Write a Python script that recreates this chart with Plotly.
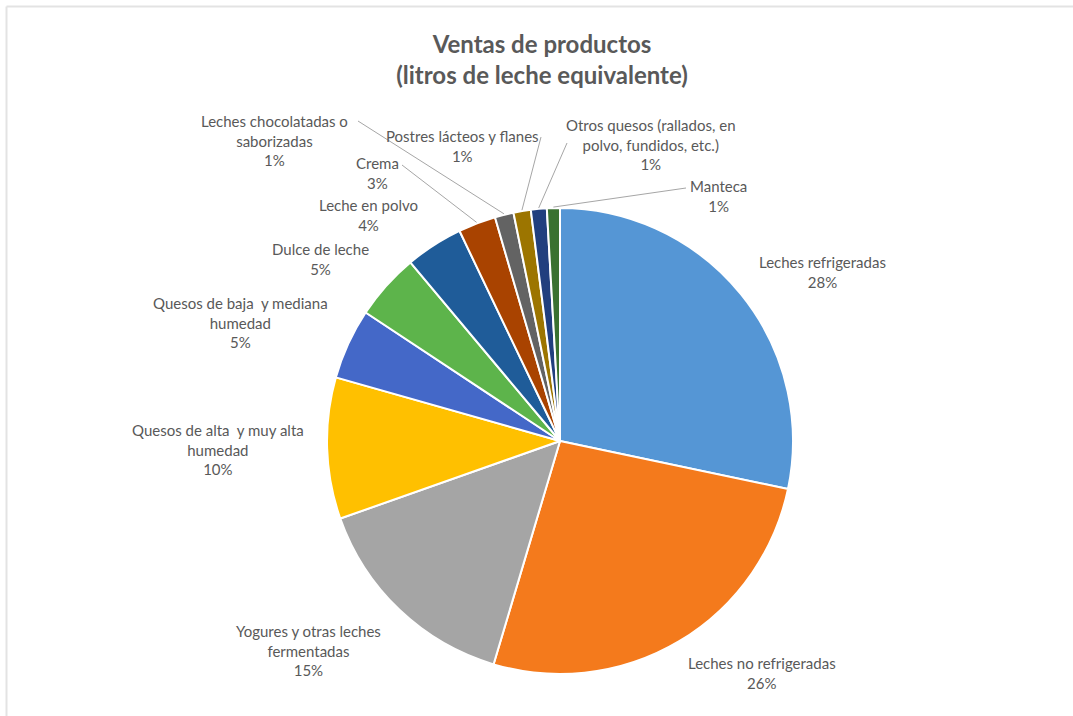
import math
import plotly.graph_objects as go

# ---- data ----
categories = [
    "Leches refrigeradas",
    "Leches no refrigeradas",
    "Yogures y otras leches<br>fermentadas",
    "Quesos de alta  y muy alta<br>humedad",
    "Quesos de baja  y mediana<br>humedad",
    "Dulce de leche",
    "Leche en polvo",
    "Crema",
    "Leches chocolatadas o<br>saborizadas",
    "Postres lácteos y flanes",
    "Otros quesos (rallados, en<br>polvo, fundidos, etc.)",
    "Manteca",
]
values = [28.3, 26.3, 15.0, 9.8, 4.9, 4.6, 4.0, 2.6, 1.3, 1.2, 1.1, 0.9]
colors = ["#5596D5", "#F47A1C", "#A5A5A5", "#FFC000", "#4468C8", "#5DB44B",
          "#1F5C99", "#A94300", "#636363", "#9C7500", "#213F7E", "#3A7130"]

# ---- layout / styling (pixels) ----
W, H = 1073, 716
CX, CY, R = 560, 441, 233
label_pos = [(822, 272), (762, 673), (308, 650), (218, 449), (240, 322), (320, 259),
             (368, 215), (377, 173), (274, 141), (462, 146), (651, 144), (718, 196)]
leader_from = {8: (358, 121), 7: (402, 165), 9: (541, 137), 10: (567, 143), 11: (686, 188)}
TEXT = "#595959"
FONT = "Lato"

def px(x):
    return x / W

def py(y):
    return 1 - y / H

fig = go.Figure(go.Pie(
    labels=[c.replace("<br>", " ") for c in categories],
    values=values,
    sort=False,
    direction="clockwise",
    rotation=0,
    marker=dict(colors=colors, line=dict(color="white", width=2)),
    textinfo="none",
    hoverinfo="label+percent",
    showlegend=False,
    domain=dict(x=[px(CX - R), px(CX + R)], y=[py(CY + R), py(CY - R)]),
))

total = sum(values)
annotations = []
shapes = []
cum = 0.0
for i, (cat, v) in enumerate(zip(categories, values)):
    pct = round(v / total * 100)
    lx, ly = label_pos[i]
    annotations.append(dict(
        x=px(lx), y=py(ly), xref="paper", yref="paper",
        text=f"{cat}<br>{pct}%", showarrow=False,
        xanchor="center", yanchor="middle", align="center",
        font=dict(family=FONT, size=15, color=TEXT),
    ))
    mid = (cum + v / 2) / total * 2 * math.pi
    cum += v
    if i in leader_from:
        ex = CX + (R + 1) * math.sin(mid)
        ey = CY - (R + 1) * math.cos(mid)
        sx, sy = leader_from[i]
        shapes.append(dict(type="line", xref="paper", yref="paper",
                           x0=px(sx), y0=py(sy), x1=px(ex), y1=py(ey),
                           line=dict(color="#A6A6A6", width=1)))

# light frame on left/top
shapes.append(dict(type="line", xref="paper", yref="paper", x0=px(6.5), y0=py(6.5), x1=1, y1=py(6.5),
                   line=dict(color="#E3E3E3", width=2)))
shapes.append(dict(type="line", xref="paper", yref="paper", x0=px(6.5), y0=py(6.5), x1=px(6.5), y1=0,
                   line=dict(color="#E3E3E3", width=2)))

fig.update_layout(
    width=W, height=H,
    margin=dict(l=0, r=0, t=0, b=0),
    paper_bgcolor="white",
    title=dict(text="<b>Ventas de productos<br>(litros de leche equivalente)</b>",
               x=px(542), xanchor="center", y=py(53), yanchor="middle",
               font=dict(family=FONT, size=24, color=TEXT)),
    annotations=annotations,
    shapes=shapes,
)

fig.write_html("out.html", config={"displayModeBar": False},
               post_script="document.body.style.margin='0';document.body.style.overflow='hidden';")
